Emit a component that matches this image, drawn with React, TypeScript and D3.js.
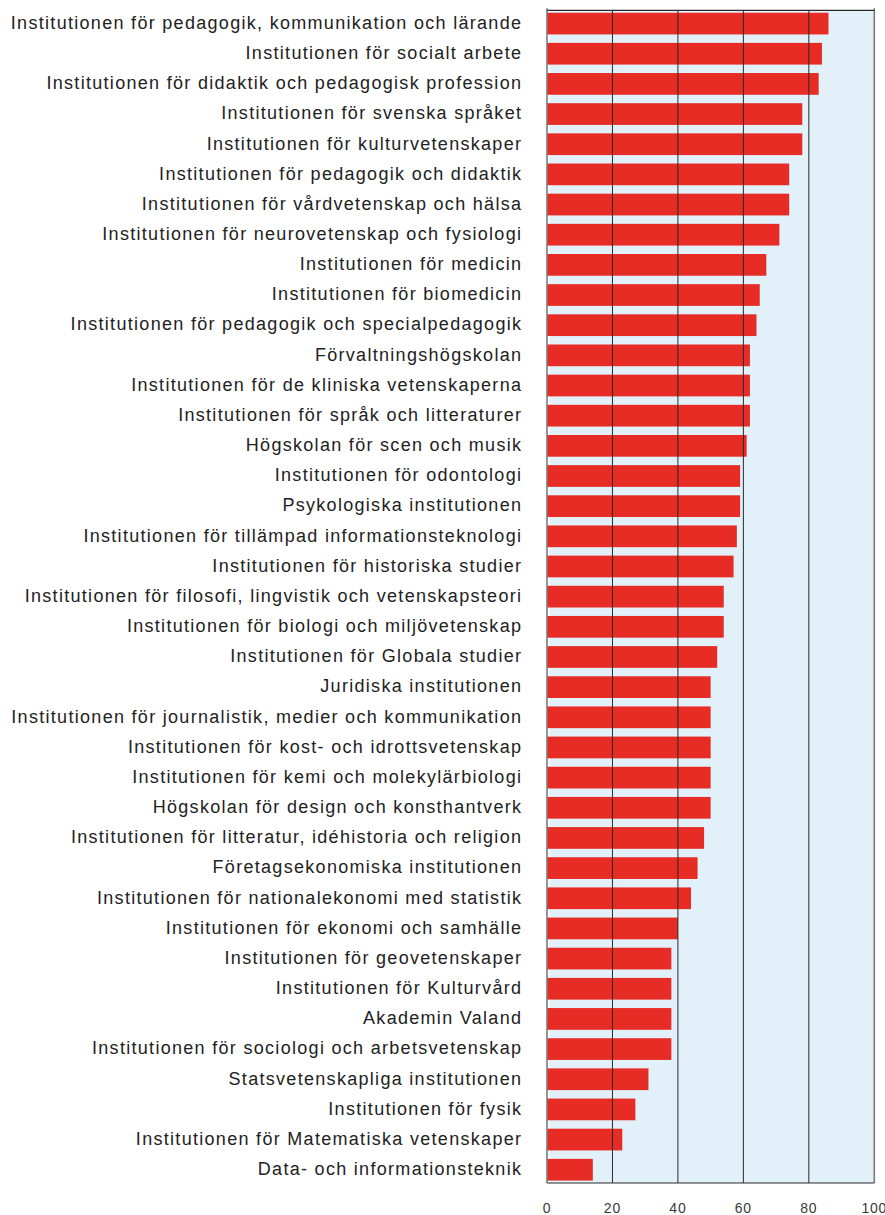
import React, { useRef, useEffect } from "react";
import * as d3 from "d3";

const institutions = [
  "Institutionen för pedagogik, kommunikation och lärande",
  "Institutionen för socialt arbete",
  "Institutionen för didaktik och pedagogisk profession",
  "Institutionen för svenska språket",
  "Institutionen för kulturvetenskaper",
  "Institutionen för pedagogik och didaktik",
  "Institutionen för vårdvetenskap och hälsa",
  "Institutionen för neurovetenskap och fysiologi",
  "Institutionen för medicin",
  "Institutionen för biomedicin",
  "Institutionen för pedagogik och specialpedagogik",
  "Förvaltningshögskolan",
  "Institutionen för de kliniska vetenskaperna",
  "Institutionen för språk och litteraturer",
  "Högskolan för scen och musik",
  "Institutionen för odontologi",
  "Psykologiska institutionen",
  "Institutionen för tillämpad informationsteknologi",
  "Institutionen för historiska studier",
  "Institutionen för filosofi, lingvistik och vetenskapsteori",
  "Institutionen för biologi och miljövetenskap",
  "Institutionen för Globala studier",
  "Juridiska institutionen",
  "Institutionen för journalistik, medier och kommunikation",
  "Institutionen för kost- och idrottsvetenskap",
  "Institutionen för kemi och molekylärbiologi",
  "Högskolan för design och konsthantverk",
  "Institutionen för litteratur, idéhistoria och religion",
  "Företagsekonomiska institutionen",
  "Institutionen för nationalekonomi med statistik",
  "Institutionen för ekonomi och samhälle",
  "Institutionen för geovetenskaper",
  "Institutionen för Kulturvård",
  "Akademin Valand",
  "Institutionen för sociologi och arbetsvetenskap",
  "Statsvetenskapliga institutionen",
  "Institutionen för fysik",
  "Institutionen för Matematiska vetenskaper",
  "Data- och informationsteknik",
];

const values = [
  86, 84, 83, 78, 78, 74, 74, 71, 67, 65, 64, 62, 62, 62, 61, 59, 59, 58, 57, 54,
  54, 52, 50, 50, 50, 50, 50, 48, 46, 44, 40, 38, 38, 38, 38, 31, 27, 23, 14,
];

const tickValues = [0, 20, 40, 60, 80, 100];

const W = 885;
const H = 1215;

const App = () => {
  const ref = useRef<SVGSVGElement>(null);

  useEffect(() => {
    const svg = d3.select(ref.current);
    svg.selectAll("*").remove();

    const left = 547, right = 874.3, top = 10.3, bottom = 1183;
    const x = d3.scaleLinear().domain([0, 100]).range([left, right]);
    const y = d3.scaleBand<string>()
      .domain(institutions)
      .range([top, bottom])
      .paddingInner(0.28)
      .paddingOuter(0.08);

    // background
    svg.append("rect")
      .attr("x", left + 2.5).attr("y", top)
      .attr("width", right - left - 2.5).attr("height", bottom - top)
      .attr("fill", "#e2f0fa");

    const data = institutions.map((name, i) => ({ name, value: values[i] }));

    svg.append("g").selectAll("rect")
      .data(data)
      .join("rect")
      .attr("x", x(0))
      .attr("y", d => y(d.name)!)
      .attr("width", d => x(d.value) - x(0))
      .attr("height", y.bandwidth())
      .attr("fill", "#e72b25");

    // grid lines on top
    svg.append("g").selectAll("line")
      .data([20, 40, 60, 80])
      .join("line")
      .attr("x1", d => x(d)).attr("x2", d => x(d))
      .attr("y1", top).attr("y2", bottom)
      .attr("stroke", "#2a2a2a")
      .attr("stroke-width", 1);

    // frame
    [0, 100].forEach(v => {
      svg.append("line")
        .attr("x1", x(v)).attr("x2", x(v))
        .attr("y1", top - 2).attr("y2", bottom)
        .attr("stroke", "#7a7a7a")
        .attr("stroke-width", 1.6);
    });
    [top, bottom].forEach(yy => {
      svg.append("line")
        .attr("x1", left).attr("x2", right)
        .attr("y1", yy).attr("y2", yy)
        .attr("stroke", "#2a2a2a")
        .attr("stroke-width", 1.2);
    });

    // category labels
    svg.append("g").selectAll("text")
      .data(data)
      .join("text")
      .attr("x", 522.3)
      .attr("y", d => y(d.name)! + y.bandwidth() / 2 - 1)
      .attr("dy", "0.35em")
      .attr("text-anchor", "end")
      .attr("font-family", "'Liberation Sans', Arial, Helvetica, sans-serif")
      .attr("font-size", 18)
      .attr("letter-spacing", 1.3)
      .attr("fill", "#222")
      .text(d => d.name);

    // tick labels
    svg.append("g").selectAll("text")
      .data(tickValues)
      .join("text")
      .attr("x", d => x(d))
      .attr("y", 1208)
      .attr("dy", "0.35em")
      .attr("text-anchor", "middle")
      .attr("font-family", "'Liberation Sans', Arial, Helvetica, sans-serif")
      .attr("font-size", 14)
      .attr("letter-spacing", 0.8)
      .attr("fill", "#3a3a3a")
      .text(d => String(d));
  }, []);

  return (
    <svg
      ref={ref}
      width={W}
      height={H}
      style={{ position: "absolute", left: 0, top: 0, background: "#fff" }}
    />
  );
};

export default App;
